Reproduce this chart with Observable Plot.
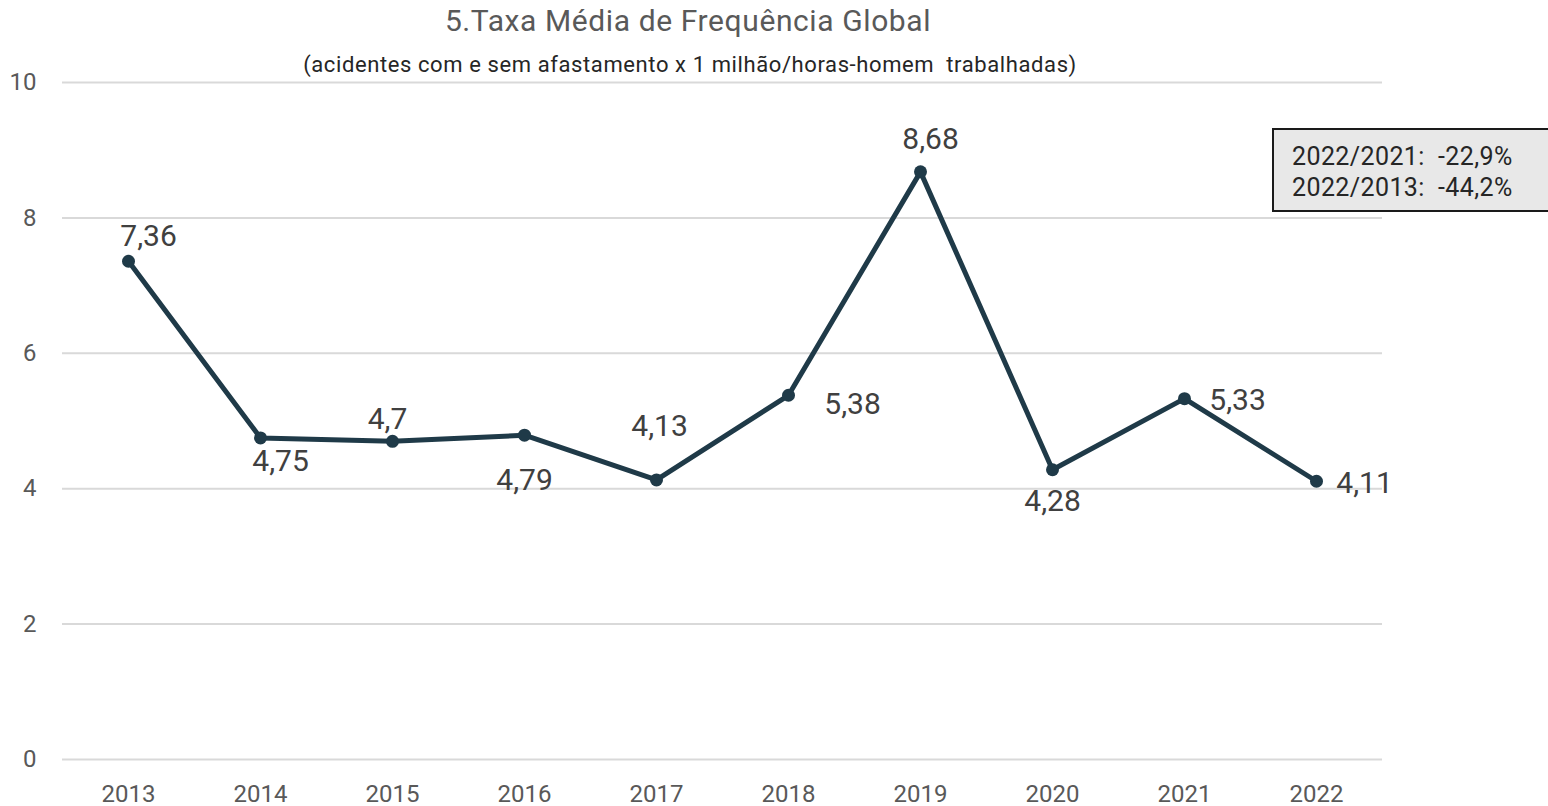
<!DOCTYPE html>
<html>
<head>
<meta charset="utf-8">
<script src="https://cdn.jsdelivr.net/npm/d3@7"></script>
<script src="https://cdn.jsdelivr.net/npm/@observablehq/plot@0.6"></script>
<style>
  html, body { margin: 0; padding: 0; background: #fff; overflow: hidden; }
  #wrap { position: relative; width: 1548px; height: 806px; font-family: Roboto, "DejaVu Sans", sans-serif; }
  #title { position: absolute; left: 0; width: 1376px; top: 3px; text-align: center; font-size: 30px; color: #595959; letter-spacing: 0.6px; }
  #subtitle { position: absolute; left: 0; width: 1380px; top: 52px; text-align: center; font-size: 22px; color: #262626; letter-spacing: 0.6px; white-space: pre; }
  #note { position: absolute; left: 1272px; top: 128px; width: 290px; height: 80px; background: #e8e8e8; border: 2px solid #1a1a1a; box-sizing: content-box; font-size: 25px; letter-spacing: 0.4px; color: #262626; white-space: pre; line-height: 31px; padding: 0; }
  #note div { padding-left: 18px; }
  #chart { position: absolute; left: 0; top: 0; }
</style>
</head>
<body>
<div id="wrap">
  <div id="chart"></div>
  <div id="title">5.Taxa Média de Frequência Global</div>
  <div id="subtitle">(acidentes com e sem afastamento x 1 milhão/horas-homem  trabalhadas)</div>
  <div id="note"><div style="margin-top:11px">2022/2021:  -22,9%</div><div>2022/2013:  -44,2%</div></div>
</div>
<script>
const years = ["2013", "2014", "2015", "2016", "2017", "2018", "2019", "2020", "2021", "2022"];
const values = [7.36, 4.75, 4.7, 4.79, 4.13, 5.38, 8.68, 4.28, 5.33, 4.11];
const valueLabels = ["7,36", "4,75", "4,7", "4,79", "4,13", "5,38", "8,68", "4,28", "5,33", "4,11"];
const yTicks = [0, 2, 4, 6, 8, 10];
// label offsets [dx, dy] in pixels relative to each point
const labelOffsets = [[20, -25], [20, 23], [-5, -22], [0, 45], [3, -54], [64, 9], [10, -32], [0, 32], [53, 2], [48, 2]];

const data = years.map((y, i) => ({year: y, value: values[i], label: valueLabels[i]}));
const lineColor = "#1f3a48";

const labelMarks = data.map((d, i) => Plot.text([d], {
  x: "year", y: "value", text: "label",
  dx: labelOffsets[i][0], dy: labelOffsets[i][1],
  fontSize: 30, fill: "#404040"
}));

const chart = Plot.plot({
  width: 1548,
  height: 806,
  marginTop: 82,
  marginBottom: 47,
  marginLeft: 62,
  marginRight: 166,
  style: {fontFamily: "Roboto, 'DejaVu Sans', sans-serif", fontSize: "24px", color: "#595959", background: "transparent", overflow: "visible"},
  x: {type: "point", domain: years, padding: 0.5},
  y: {domain: [0, 10]},
  marks: [
    Plot.gridY(yTicks, {stroke: "#d9d9d9", strokeOpacity: 1, strokeWidth: 2}),
    Plot.axisY(yTicks, {tickSize: 0, tickPadding: 26, fontSize: 24, fill: "#595959", label: null, tickFormat: d => String(d)}),
    Plot.axisX({tickSize: 0, tickPadding: 25, fontSize: 24, fill: "#595959", label: null}),
    Plot.line(data, {x: "year", y: "value", stroke: lineColor, strokeWidth: 5, strokeLinejoin: "round"}),
    Plot.dot(data, {x: "year", y: "value", r: 6.5, fill: lineColor, stroke: "none"}),
    ...labelMarks
  ]
});
document.getElementById("chart").appendChild(chart);
</script>
</body>
</html>
